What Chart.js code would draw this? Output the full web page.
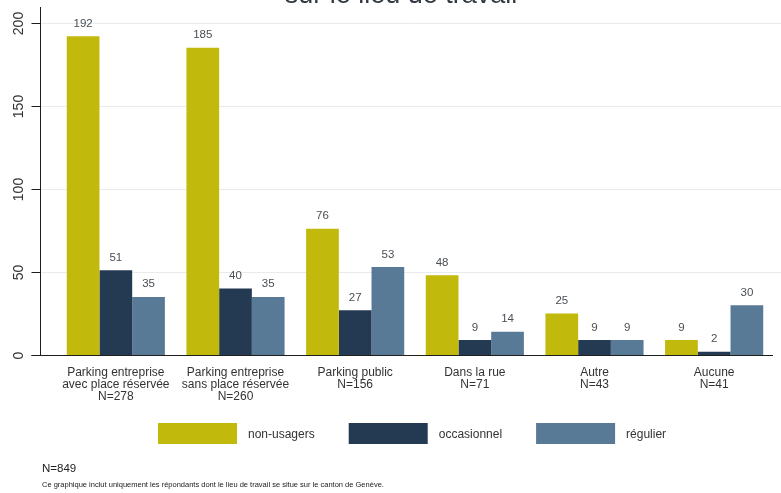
<!DOCTYPE html>
<html>
<head>
<meta charset="utf-8">
<script src="https://cdn.jsdelivr.net/npm/chart.js@4.4.1/dist/chart.umd.min.js"></script>
<style>
  html, body { margin: 0; padding: 0; background: #fff; overflow: hidden; }
  #wrap { position: relative; width: 781px; height: 493px; }
</style>
</head>
<body>
<div id="wrap"><canvas id="chartParking"></canvas></div>
<script>
var categories = [
    ['Parking entreprise', 'avec place réservée', 'N=278'],
    ['Parking entreprise', 'sans place réservée', 'N=260'],
    ['Parking public', 'N=156'],
    ['Dans la rue', 'N=71'],
    ['Autre', 'N=43'],
    ['Aucune', 'N=41']
];
var nonUsagers = [192, 185, 76, 48, 25, 9];
var occasionnel = [51, 40, 27, 9, 9, 2];
var regulier = [35, 35, 53, 14, 9, 30];
var yTicks = [0, 50, 100, 150, 200];

var titre = 'sur le lieu de travail';
var noteN = 'N=849';
var noteTexte = 'Ce graphique inclut uniquement les répondants dont le lieu de travail se situe sur le canton de Genève.';

var FONT = "'Liberation Sans', Arial, sans-serif";

// axes, value labels, legend and notes drawn on the canvas
var stataDecor = {
    id: 'stataDecor',
    beforeDatasetsDraw: function(chart) {
        var ctx = chart.ctx;
        var y = chart.scales.y;
        var axisX = chart.chartArea.left - 16;
        ctx.save();
        ctx.strokeStyle = '#e8ebee';
        ctx.lineWidth = 1;
        y.ticks.forEach(function(t) {
            if (t.value === 0) return;
            var py = Math.round(y.getPixelForValue(t.value)) + 0.5;
            ctx.beginPath();
            ctx.moveTo(axisX, py);
            ctx.lineTo(chart.width, py);
            ctx.stroke();
        });
        ctx.restore();
    },
    afterDatasetsDraw: function(chart) {
        var ctx = chart.ctx;
        var area = chart.chartArea;
        var y = chart.scales.y;
        var axisX = area.left - 16 + 0.5;
        var baseY = Math.round(y.getPixelForValue(0)) + 0.5;

        ctx.save();
        ctx.strokeStyle = '#1e1e1e';
        ctx.lineWidth = 1;
        // y axis
        ctx.beginPath();
        ctx.moveTo(axisX, area.top - 1);
        ctx.lineTo(axisX, baseY);
        ctx.stroke();
        // x axis
        ctx.beginPath();
        ctx.moveTo(axisX - 9, baseY);
        ctx.lineTo(area.right - 1, baseY);
        ctx.stroke();

        // y ticks and rotated labels
        ctx.fillStyle = '#333';
        ctx.font = '14px ' + FONT;
        ctx.textAlign = 'center';
        ctx.textBaseline = 'alphabetic';
        y.ticks.forEach(function(t) {
            var py = Math.round(y.getPixelForValue(t.value)) + 0.5;
            ctx.beginPath();
            ctx.moveTo(axisX - 9, py);
            ctx.lineTo(axisX, py);
            ctx.stroke();
            ctx.save();
            ctx.translate(23, py);
            ctx.rotate(-Math.PI / 2);
            ctx.fillText(String(t.value), 0, 0);
            ctx.restore();
        });

        // values above the bars
        ctx.fillStyle = '#4a4f55';
        ctx.font = '11.5px ' + FONT;
        chart.data.datasets.forEach(function(ds, i) {
            chart.getDatasetMeta(i).data.forEach(function(bar, j) {
                ctx.fillText(String(ds.data[j]), bar.x, bar.y - 9.5);
            });
        });
        ctx.restore();
    },
    afterDraw: function(chart) {
        var ctx = chart.ctx;
        ctx.save();

        // title (upper line sits above the canvas)
        ctx.fillStyle = '#333a44';
        ctx.font = '27px ' + FONT;
        ctx.textAlign = 'center';
        ctx.textBaseline = 'alphabetic';
        ctx.fillText(titre, 401, 3);

        // legend
        ctx.font = '12px ' + FONT;
        ctx.textAlign = 'left';
        var lx = 158;
        chart.data.datasets.forEach(function(ds) {
            ctx.fillStyle = ds.backgroundColor;
            ctx.fillRect(lx, 423, 79, 21);
            ctx.fillStyle = '#333';
            ctx.fillText(ds.label, lx + 79 + 11, 438);
            lx += 79 + 11 + ctx.measureText(ds.label).width + 34;
        });

        // notes
        ctx.fillStyle = '#222';
        ctx.font = '11.5px ' + FONT;
        ctx.fillText(noteN, 42, 472);
        ctx.font = '7.5px ' + FONT;
        ctx.fillText(noteTexte, 42, 487, 383);
        ctx.restore();
    }
};

var ctx = document.getElementById('chartParking');
var myChart = new Chart(ctx, {
    type: 'bar',
    data: {
        labels: categories,
        datasets: [{
            label: 'non-usagers',
            data: nonUsagers,
            backgroundColor: '#c1b90b'
        }, {
            label: 'occasionnel',
            data: occasionnel,
            backgroundColor: '#243a52'
        }, {
            label: 'régulier',
            data: regulier,
            backgroundColor: '#597a96'
        }]
    },
    options: {
        responsive: true,
        maintainAspectRatio: false,
        animation: false,
        layout: { padding: { top: 8, right: 7, left: 0, bottom: 0 } },
        datasets: {
            bar: { categoryPercentage: 0.82, barPercentage: 1.0 }
        },
        plugins: {
            legend: { display: false },
            tooltip: { enabled: false },
            title: { display: false }
        },
        scales: {
            x: {
                offset: true,
                grid: { display: false, drawTicks: false },
                border: { display: false },
                ticks: {
                    color: '#333',
                    padding: 12,
                    maxRotation: 0,
                    autoSkip: false,
                    font: { family: FONT, size: 12, lineHeight: 1.0 }
                },
                afterFit: function(scale) { scale.height = 138; }
            },
            y: {
                min: 0,
                max: 209,
                grid: { display: false, drawTicks: false },
                border: { display: false },
                ticks: { display: false },
                afterBuildTicks: function(scale) {
                    scale.ticks = yTicks.map(function(v) { return { value: v }; });
                },
                afterFit: function(scale) { scale.width = 56; }
            }
        }
    },
    plugins: [stataDecor]
});
</script>
</body>
</html>
